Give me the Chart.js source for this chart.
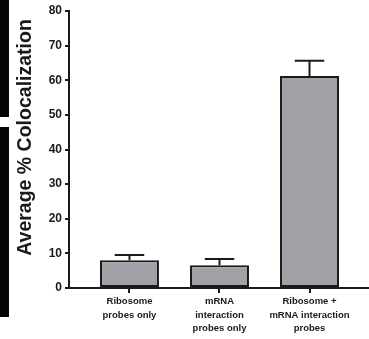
<!DOCTYPE html>
<html>
<head>
<meta charset="utf-8">
<script src="https://cdn.jsdelivr.net/npm/chart.js@4.4.1/dist/chart.umd.min.js"></script>
<style>
  html, body { margin: 0; padding: 0; background: #fff; }
  #wrap { position: relative; width: 369px; height: 339px; overflow: hidden; }
  #c { position: absolute; left: 0; top: 0; }
  .strip { position: absolute; left: 0; width: 9px; background: #050505; }
</style>
</head>
<body>
<div id="wrap">
  <canvas id="c" width="369" height="339"></canvas>
  <div class="strip" style="top:0;height:117px"></div>
  <div class="strip" style="top:127px;height:190px"></div>
</div>
<script>
// Group labels (multi-line) and their positions along the x axis
const categories = [
  ["Ribosome", "probes only"],
  ["mRNA", "interaction", "probes only"],
  ["Ribosome +", "mRNA interaction", "probes"]
];
const positions = [1, 2, 3];

// Mean colocalization (%) and standard error per group
const means = [8.0, 6.6, 61.2];
const sem = [1.5, 1.8, 4.4];

// Y axis range and step
const yMin = 0;
const yMax = 80;
const yStep = 10;
const yTitle = "Average % Colocalization";

const ink = "#1a1a1a";
const fontFamily = "'Liberation Sans', Arial, Helvetica, sans-serif";

// Upward-only error bars with caps, drawn from the sem array
const errorBars = {
  id: "errorBars",
  afterDatasetsDraw(chart) {
    const { ctx, scales: { x, y } } = chart;
    const meta = chart.getDatasetMeta(0);
    ctx.save();
    ctx.strokeStyle = ink;
    ctx.lineWidth = 2;
    meta.data.forEach((bar, i) => {
      const cx = x.getPixelForValue(positions[i]);
      const yTop = y.getPixelForValue(means[i]);
      const yErr = y.getPixelForValue(means[i] + sem[i]);
      const half = bar.width / 4;
      ctx.beginPath();
      ctx.moveTo(cx, yTop);
      ctx.lineTo(cx, yErr);
      ctx.moveTo(cx - half, yErr);
      ctx.lineTo(cx + half, yErr);
      ctx.stroke();
    });
    ctx.restore();
  }
};

// Rotated y-axis title
const axisTitle = {
  id: "axisTitle",
  afterDraw(chart) {
    const { ctx } = chart;
    ctx.save();
    ctx.translate(26, 137.5);
    ctx.rotate(-Math.PI / 2);
    ctx.font = "bold 19.5px " + fontFamily;
    ctx.fillStyle = ink;
    ctx.textAlign = "center";
    ctx.textBaseline = "middle";
    ctx.fillText(yTitle, 0, 0);
    ctx.restore();
  }
};

new Chart(document.getElementById("c"), {
  type: "bar",
  data: {
    datasets: [{
      data: positions.map((p, i) => ({ x: p, y: means[i] })),
      backgroundColor: "#a2a1a7",
      borderColor: ink,
      borderWidth: 2,
      borderSkipped: false,
      barPercentage: 0.655,
      categoryPercentage: 1
    }]
  },
  options: {
    responsive: false,
    animation: false,
    devicePixelRatio: 1,
    layout: { padding: { left: 0, right: 0, top: 11, bottom: 0 } },
    plugins: { legend: { display: false }, tooltip: { enabled: false } },
    scales: {
      x: {
        type: "linear",
        offset: false,
        min: 0.328,
        max: 3.661,
        afterBuildTicks(scale) {
          scale.ticks = positions.map(v => ({ value: v }));
        },
        afterFit(scale) { scale.height = 51; },
        grid: {
          display: true,
          offset: false,
          drawOnChartArea: false,
          drawTicks: true,
          tickLength: 5,
          color: ink,
          lineWidth: 2
        },
        border: { display: true, color: ink, width: 2 },
        ticks: {
          autoSkip: false,
          maxRotation: 0,
          padding: 2,
          color: ink,
          font: { family: fontFamily, size: 9.5, weight: "bold", lineHeight: 1.42 },
          callback(value) {
            const i = positions.indexOf(value);
            return i >= 0 ? categories[i] : "";
          }
        }
      },
      y: {
        min: yMin,
        max: yMax,
        afterFit(scale) { scale.width = 69; },
        grid: {
          display: true,
          drawOnChartArea: false,
          drawTicks: true,
          tickLength: 4,
          color: ink,
          lineWidth: 2
        },
        border: { display: true, color: ink, width: 2 },
        ticks: {
          stepSize: yStep,
          padding: 3,
          color: ink,
          font: { family: fontFamily, size: 12, weight: "bold" }
        }
      }
    }
  },
  plugins: [errorBars, axisTitle]
});
</script>
</body>
</html>
